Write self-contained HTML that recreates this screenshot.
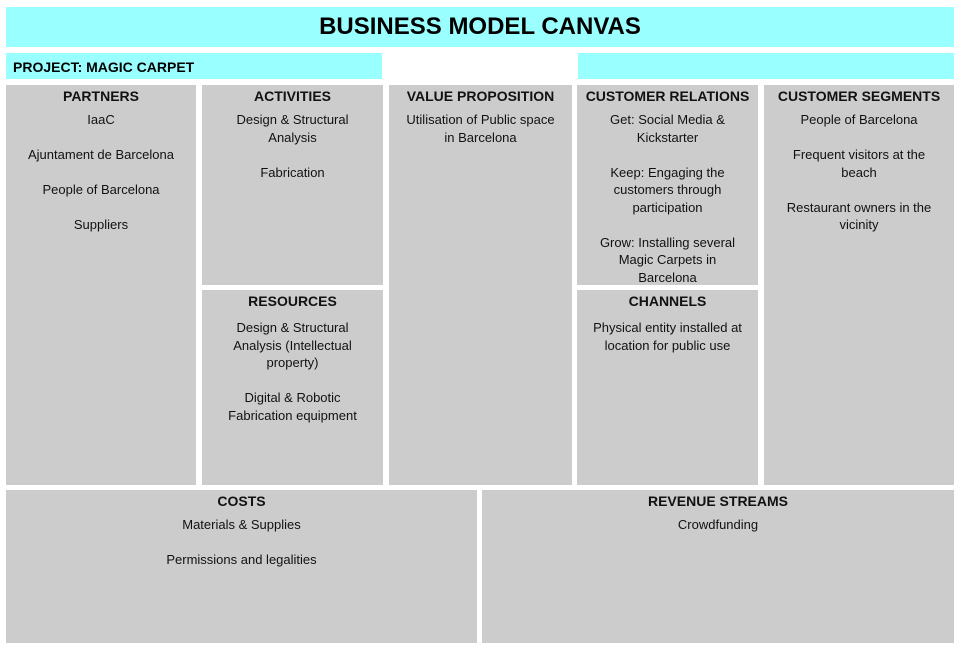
<!DOCTYPE html><html><head><style>
body{margin:0;width:960px;height:649px;background:#fff;font-family:"Liberation Sans",sans-serif;position:relative;overflow:hidden}
.b{position:absolute;background:#cccccc;text-align:center;color:#111;font-size:13px;line-height:17.5px;box-sizing:border-box;padding:0 2px;white-space:nowrap}
.b h{display:block;font-weight:bold;font-size:14px;margin:3px 0 6px;line-height:17px}
.b.l h{margin-bottom:9px}
.b p{margin:0 0 17.5px}
.c{position:absolute;background:#99ffff}
</style></head><body>
<div class="c" style="left:6px;top:7px;width:948px;height:40px;text-align:center;font-weight:bold;font-size:24px;line-height:40px">BUSINESS MODEL CANVAS</div>
<div class="c" style="left:6px;top:53px;width:376px;height:26px;font-weight:bold;font-size:14px;line-height:28px;padding-left:7px;box-sizing:border-box">PROJECT: MAGIC CARPET</div>
<div class="c" style="left:578px;top:53px;width:376px;height:26px"></div>
<div class="b" style="left:6px;top:85px;width:190px;height:400px"><h>PARTNERS</h><p>IaaC</p><p>Ajuntament de Barcelona</p><p>People of Barcelona</p><p>Suppliers</p></div>
<div class="b" style="left:202px;top:85px;width:181px;height:200px"><h>ACTIVITIES</h><p>Design &amp; Structural<br>Analysis</p><p>Fabrication</p></div>
<div class="b l" style="left:202px;top:290px;width:181px;height:195px"><h>RESOURCES</h><p>Design &amp; Structural<br>Analysis (Intellectual<br>property)</p><p>Digital &amp; Robotic<br>Fabrication equipment</p></div>
<div class="b" style="left:389px;top:85px;width:183px;height:400px"><h>VALUE PROPOSITION</h><p>Utilisation of Public space<br>in Barcelona</p></div>
<div class="b" style="left:577px;top:85px;width:181px;height:200px"><h>CUSTOMER RELATIONS</h><p>Get: Social Media &amp;<br>Kickstarter</p><p>Keep: Engaging the<br>customers through<br>participation</p><p>Grow: Installing several<br>Magic Carpets in<br>Barcelona</p></div>
<div class="b l" style="left:577px;top:290px;width:181px;height:195px"><h>CHANNELS</h><p>Physical entity installed at<br>location for public use</p></div>
<div class="b" style="left:764px;top:85px;width:190px;height:400px"><h>CUSTOMER SEGMENTS</h><p>People of Barcelona</p><p>Frequent visitors at the<br>beach</p><p>Restaurant owners in the<br>vicinity</p></div>
<div class="b" style="left:6px;top:490px;width:471px;height:153px"><h>COSTS</h><p>Materials &amp; Supplies</p><p>Permissions and legalities</p></div>
<div class="b" style="left:482px;top:490px;width:472px;height:153px"><h>REVENUE STREAMS</h><p>Crowdfunding</p></div>
</body></html>
